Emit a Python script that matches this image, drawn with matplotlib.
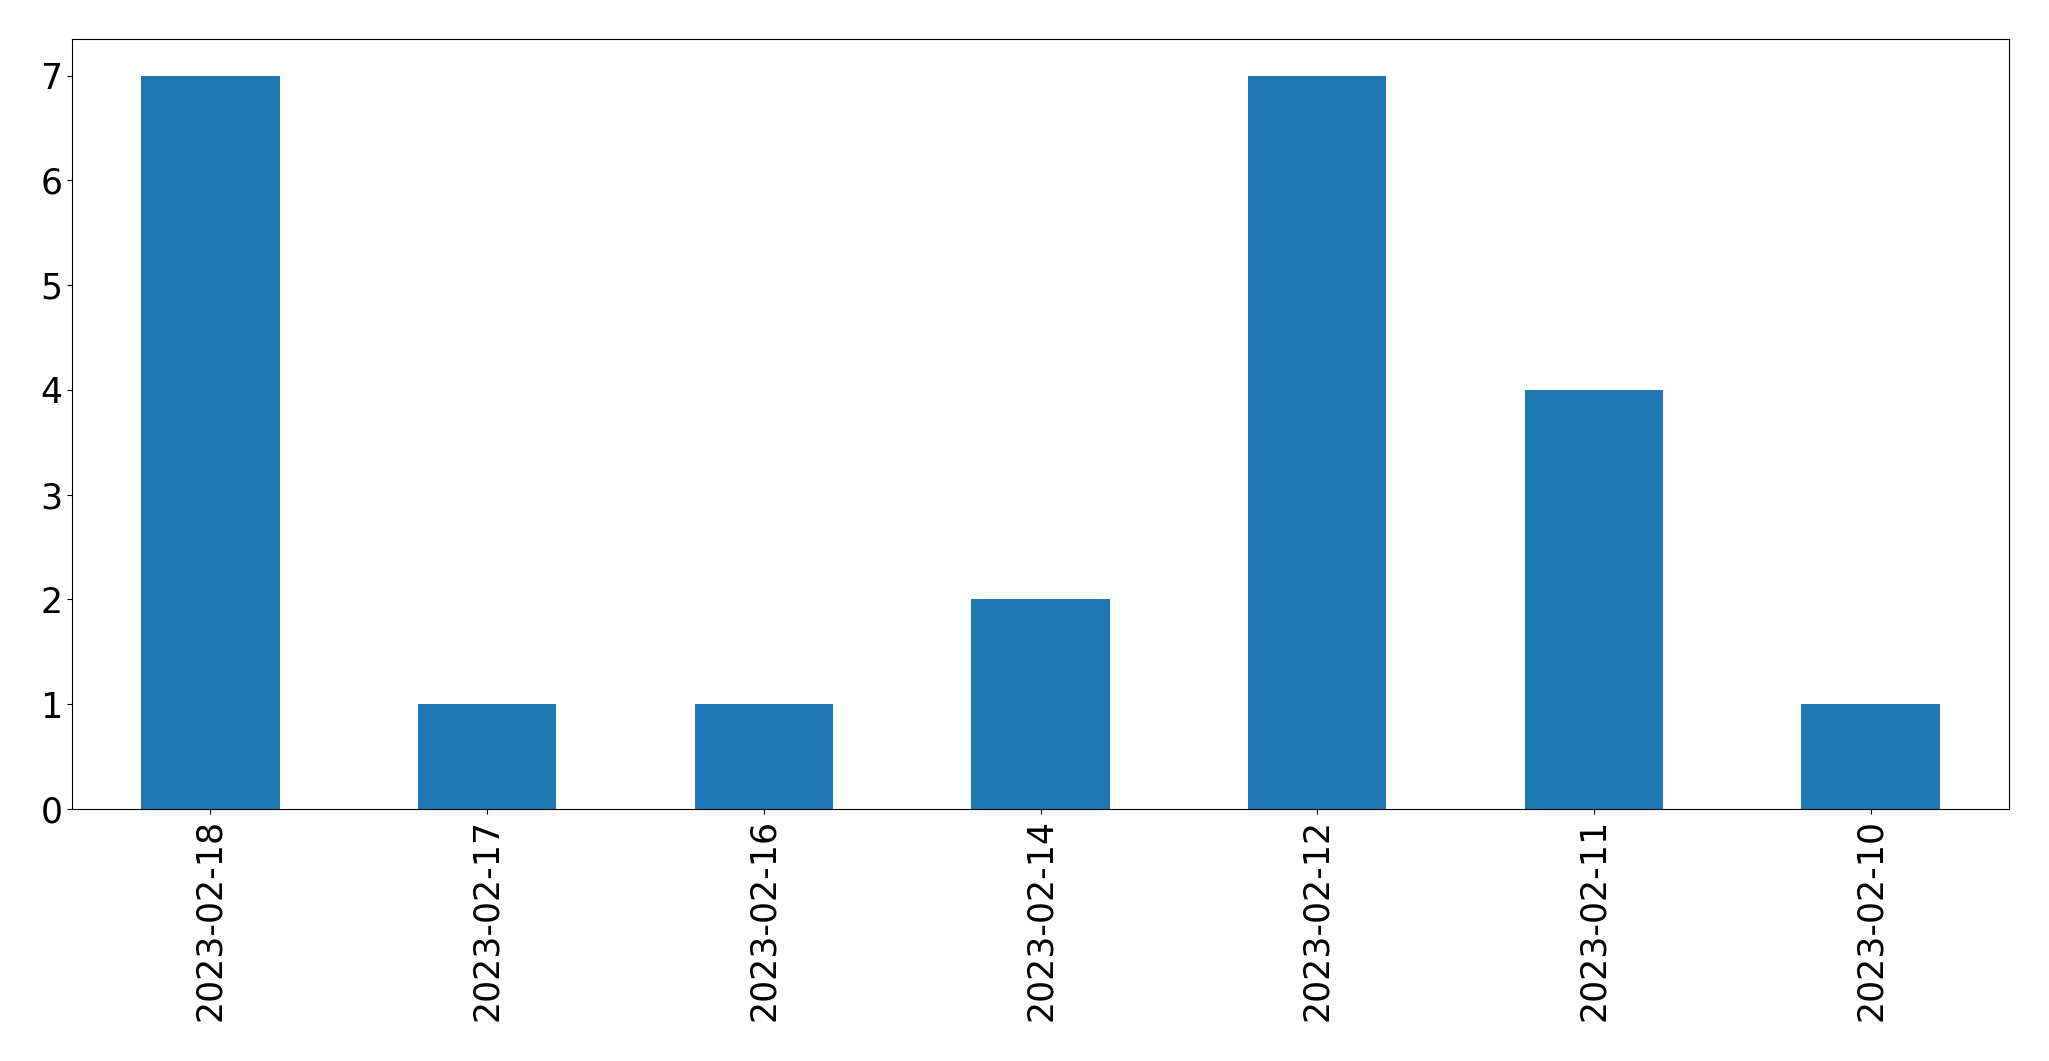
import matplotlib
matplotlib.use("Agg")
import matplotlib.pyplot as plt

# daily counts, in the order shown on the chart
dates = ["2023-02-18", "2023-02-17", "2023-02-16", "2023-02-14",
         "2023-02-12", "2023-02-11", "2023-02-10"]
counts = [7, 1, 1, 2, 7, 4, 1]

fig = plt.figure(figsize=(20.49, 10.61), dpi=100)
ax = fig.add_axes([72 / 2049, 1 - 809 / 1061, (2009 - 72) / 2049, (809 - 39) / 1061])

x = range(len(dates))
ax.bar(x, counts, width=0.5, color="#1f77b4")
ax.set_xlim(-0.5, len(dates) - 0.5)
ax.set_ylim(0, 7.35)
ax.set_xticks(list(x))
ax.set_xticklabels(dates, rotation=90)
ax.tick_params(axis="both", labelsize=25)

fig.savefig("out.png", dpi=100)
